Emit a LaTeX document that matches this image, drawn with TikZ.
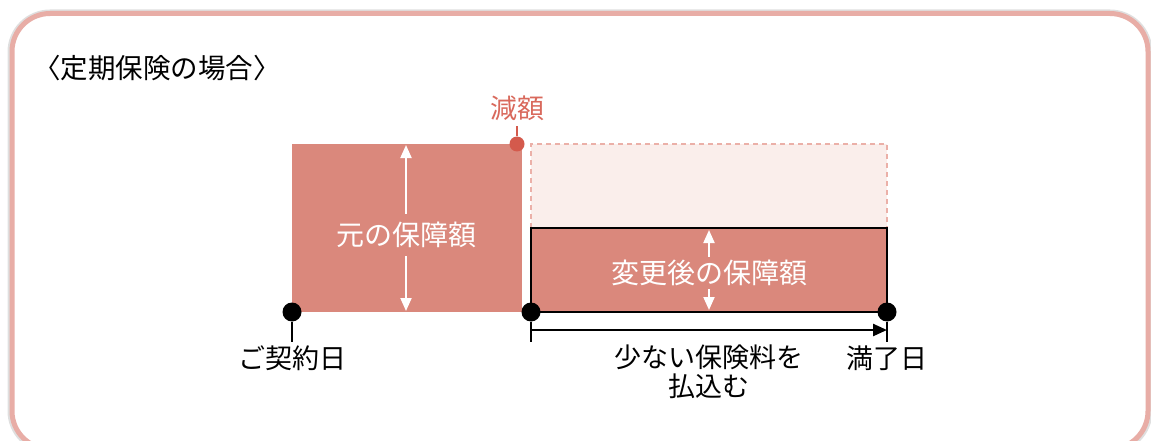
\documentclass[tikz,border=0pt]{standalone}
\usepackage{fontspec}
\setmainfont{Noto Sans CJK JP}
\usetikzlibrary{arrows.meta}
\definecolor{boxred}{HTML}{DA887C}
\definecolor{dotred}{HTML}{D45A4C}
\definecolor{txtred}{HTML}{D9695C}
\definecolor{dashpink}{HTML}{EBB0A8}
\definecolor{palefill}{HTML}{FAEEEB}
\definecolor{framepink}{HTML}{E8ADA6}
\tikzset{
  lbl/.style={inner sep=0pt, font=\fontsize{27}{31}\selectfont},
  boxtxt/.style={inner sep=0pt, text=white, font=\fontsize{28}{33}\selectfont},
  blackdot/.style={circle, fill=black, inner sep=0pt, minimum size=19pt},
  blackline/.style={draw=black, line width=2.4pt},
  whitearrow/.style={draw=white, line width=2pt, -{Triangle[width=11pt,length=13pt]}},
}
\begin{document}
\begin{tikzpicture}[x=1pt,y=-1pt]
\useasboundingbox (0,0) rectangle (1151,441);
% frame with soft shadow
\draw[gray!25, line width=9pt, rounded corners=38pt] (12,14) rectangle (1148,449);
\draw[framepink, line width=5pt, fill=white, rounded corners=38pt] (12,13.5) rectangle (1148,449);
% title
\node[lbl, anchor=west, font=\fontsize{27.5}{32}\selectfont] (title) at (33,68) {〈定期保険の場合〉};
% original box
\fill[boxred] (292,144) rectangle (522,312);
\node[boxtxt] (orig) at (406,235) {元の保障額};
\coordinate (oTop) at (406,145);
\coordinate (oBot) at (406,311);
\draw[whitearrow] (orig.north) ++(0,-8) -- (oTop);
\draw[whitearrow] (orig.south) ++(0,8) -- (oBot);
% reduced: dashed former area
\draw[dashpink, fill=palefill, line width=1.8pt, dash pattern=on 5pt off 4pt] (531,228) -- (531,144) -- (887,144) -- (887,228);
% new box
\draw[fill=boxred, line width=2.4pt] (531,228) rectangle (887,312);
\node[boxtxt] (newamt) at (709,273) {変更後の保障額};
\coordinate (nTop) at (709,230);
\coordinate (nBot) at (709,310);
\draw[whitearrow] (newamt.north) ++(0,-3) -- (nTop);
\draw[whitearrow] (newamt.south) ++(0,3) -- (nBot);
% reduction point
\node[circle, fill=dotred, inner sep=0pt, minimum size=15pt] (redpt) at (517,144) {};
\node[inner sep=0pt, text=txtred, font=\fontsize{27}{32}\selectfont] (gengaku) at (517,108) {減額};
\draw[dotred, line width=1.5pt] (redpt.north) -- ++(0,-10);
% time axis dots
\node[blackdot] (d1) at (292,312) {};
\node[blackdot] (d2) at (531,312) {};
\node[blackdot] (d3) at (887,312) {};
\coordinate (t1) at (292,342);
\coordinate (t2) at (531,342);
\coordinate (t3) at (887,342);
\draw[blackline] (d1) -- (t1);
\draw[blackline] (d2) -- (t2);
\draw[blackline] (d3) -- (t3);
\draw[blackline, -{Triangle[width=12pt,length=14pt]}] (531,330) -- (887,330);
% labels
\node[lbl] (start) at (292,358) {ご契約日};
\node[lbl] (pay1) at (709,357) {少ない保険料を};
\node[lbl] (pay2) at (709,386) {払込む};
\node[lbl] (end) at (887,358) {満了日};
\end{tikzpicture}
\end{document}
